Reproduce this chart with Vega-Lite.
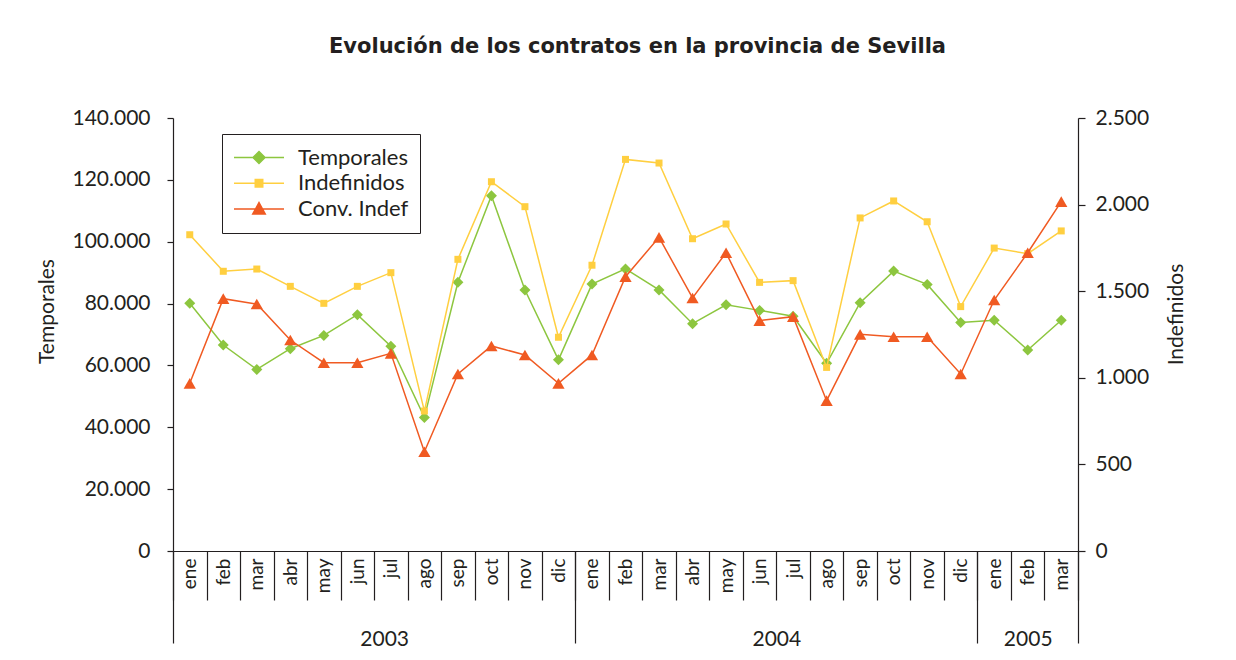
{
  "$schema": "https://vega.github.io/schema/vega-lite/v6.json",
  "width": 905,
  "height": 433,
  "autosize": {"type": "none"},
  "padding": {"left": 173, "top": 118, "right": 158, "bottom": 109},
  "background": "white",
  "title": {"text": "Evolución de los contratos en la provincia de Sevilla", "font": "DejaVu Sans", "fontSize": 21, "fontWeight": "bold", "color": "#231f20", "anchor": "middle", "offset": 50, "dx": 12},
  "data": {"values": [
    {"k": "2003 ene", "T": 80100, "I": 1826, "C": 968},
    {"k": "2003 feb", "T": 66600, "I": 1615, "C": 1457},
    {"k": "2003 mar", "T": 58700, "I": 1628, "C": 1426},
    {"k": "2003 abr", "T": 65400, "I": 1528, "C": 1218},
    {"k": "2003 may", "T": 69700, "I": 1430, "C": 1087},
    {"k": "2003 jun", "T": 76400, "I": 1528, "C": 1087},
    {"k": "2003 jul", "T": 66200, "I": 1607, "C": 1141},
    {"k": "2003 ago", "T": 43200, "I": 808, "C": 573},
    {"k": "2003 sep", "T": 86900, "I": 1684, "C": 1022},
    {"k": "2003 oct", "T": 114900, "I": 2132, "C": 1184},
    {"k": "2003 nov", "T": 84400, "I": 1988, "C": 1132},
    {"k": "2003 dic", "T": 61800, "I": 1234, "C": 968},
    {"k": "2004 ene", "T": 86300, "I": 1650, "C": 1132},
    {"k": "2004 feb", "T": 91200, "I": 2261, "C": 1584},
    {"k": "2004 mar", "T": 84400, "I": 2240, "C": 1811},
    {"k": "2004 abr", "T": 73500, "I": 1803, "C": 1461},
    {"k": "2004 may", "T": 79600, "I": 1888, "C": 1722},
    {"k": "2004 jun", "T": 77800, "I": 1551, "C": 1330},
    {"k": "2004 jul", "T": 75900, "I": 1561, "C": 1353},
    {"k": "2004 ago", "T": 60700, "I": 1060, "C": 868},
    {"k": "2004 sep", "T": 80300, "I": 1923, "C": 1251},
    {"k": "2004 oct", "T": 90500, "I": 2021, "C": 1237},
    {"k": "2004 nov", "T": 86200, "I": 1901, "C": 1237},
    {"k": "2004 dic", "T": 73900, "I": 1411, "C": 1022},
    {"k": "2005 ene", "T": 74600, "I": 1749, "C": 1449},
    {"k": "2005 feb", "T": 65000, "I": 1717, "C": 1722},
    {"k": "2005 mar", "T": 74600, "I": 1848, "C": 2017}
  ]},
  "layer": [
    {
      "mark": {"type": "line", "strokeWidth": 1.5},
      "encoding": {
        "x": {"field": "k", "type": "ordinal", "sort": null, "bandPosition": 0.5,
          "scale": {"type": "band", "paddingInner": 0, "paddingOuter": 0},
          "axis": {"orient": "bottom", "title": null, "labelExpr": "split(datum.label,' ')[1]", "labelAngle": -90, "tickBand": "extent", "tickSize": 49, "labelPadding": -42, "labelFontSize": 19}},
        "y": {"field": "T", "type": "quantitative", "scale": {"domain": [0, 140000], "nice": false},
          "axis": {"orient": "left", "title": "Temporales", "values": [0, 20000, 40000, 60000, 80000, 100000, 120000, 140000], "labelExpr": "replace(format(datum.value, ','), ',', '.')", "tickSize": 6, "labelPadding": 17, "titlePadding": 14, "titleY": 193}},
        "color": {"datum": "Temporales", "type": "nominal",
          "scale": {"domain": ["Temporales", "Indefinidos", "Conv. Indef"], "range": ["#8dc63f", "#ffcf40", "#f05a22"]},
          "legend": {"orient": "none", "legendX": 49, "legendY": 16, "title": null, "strokeColor": "#231f20", "fillColor": "white", "padding": 11, "symbolSize": 2500, "clipHeight": 25, "rowPadding": 0.8, "labelFontSize": 22, "labelOffset": 13, "labelColor": "#231f20", "labelFont": "Lato",
            "encode": {"symbols": {"update": {
              "shape": {"signal": "datum.value==='Temporales'?'M-1,0L1,0M0,-0.24L0.24,0L0,0.24L-0.24,0Z':datum.value==='Indefinidos'?'M-1,0L1,0M-0.15,-0.15L0.15,-0.15L0.15,0.15L-0.15,0.15Z':'M-1,0L1,0M0,-0.26L0.25,0.2L-0.25,0.2Z'"},
              "fill": {"scale": "color", "field": "value"},
              "stroke": {"scale": "color", "field": "value"},
              "strokeWidth": {"value": 1.5},
              "opacity": {"value": 1}}}}}}
      }
    },
    {
      "mark": {"type": "point", "shape": "diamond", "filled": true, "size": 121, "opacity": 1},
      "encoding": {
        "x": {"field": "k", "type": "ordinal", "sort": null, "bandPosition": 0.5, "scale": {"type": "band", "paddingInner": 0, "paddingOuter": 0}, "axis": null},
        "y": {"field": "T", "type": "quantitative", "scale": {"domain": [0, 140000], "nice": false}, "axis": null},
        "color": {"datum": "Temporales", "type": "nominal"}
      }
    },
    {
      "mark": {"type": "line", "strokeWidth": 1.5},
      "encoding": {
        "x": {"field": "k", "type": "ordinal", "sort": null, "bandPosition": 0.5, "scale": {"type": "band", "paddingInner": 0, "paddingOuter": 0}, "axis": null},
        "y": {"field": "I", "type": "quantitative", "scale": {"domain": [0, 2500], "nice": false},
          "axis": {"orient": "right", "title": "Indefinidos", "values": [0, 500, 1000, 1500, 2000, 2500], "labelExpr": "replace(format(datum.value, ','), ',', '.')", "tickSize": 7, "labelPadding": 10, "titleAngle": 270, "titlePadding": 38, "titleY": 196}},
        "color": {"datum": "Indefinidos", "type": "nominal"}
      }
    },
    {
      "mark": {"type": "point", "shape": "square", "filled": true, "size": 49, "opacity": 1},
      "encoding": {
        "x": {"field": "k", "type": "ordinal", "sort": null, "bandPosition": 0.5, "scale": {"type": "band", "paddingInner": 0, "paddingOuter": 0}, "axis": null},
        "y": {"field": "I", "type": "quantitative", "scale": {"domain": [0, 2500], "nice": false}, "axis": null},
        "color": {"datum": "Indefinidos", "type": "nominal"}
      }
    },
    {
      "mark": {"type": "line", "strokeWidth": 1.5},
      "encoding": {
        "x": {"field": "k", "type": "ordinal", "sort": null, "bandPosition": 0.5, "scale": {"type": "band", "paddingInner": 0, "paddingOuter": 0}, "axis": null},
        "y": {"field": "C", "type": "quantitative", "scale": {"domain": [0, 2500], "nice": false}, "axis": null},
        "color": {"datum": "Conv. Indef", "type": "nominal"}
      }
    },
    {
      "mark": {"type": "point", "shape": "triangle-up", "filled": true, "size": 150, "opacity": 1},
      "encoding": {
        "x": {"field": "k", "type": "ordinal", "sort": null, "bandPosition": 0.5, "scale": {"type": "band", "paddingInner": 0, "paddingOuter": 0}, "axis": null},
        "y": {"field": "C", "type": "quantitative", "scale": {"domain": [0, 2500], "nice": false}, "axis": null},
        "color": {"datum": "Conv. Indef", "type": "nominal"}
      }
    },
    {
      "data": {"values": [{"p": 0}, {"p": 27}]},
      "mark": {"type": "point", "opacity": 0},
      "encoding": {
        "x": {"field": "p", "type": "quantitative", "scale": {"domain": [0, 27], "nice": false, "zero": false},
          "axis": {"orient": "bottom", "title": null, "domain": false, "values": [0, 6.3, 12, 18, 24, 25.5, 27],
            "labelExpr": "datum.value==6.3?'2003':datum.value==18?'2004':datum.value==25.5?'2005':''",
            "tickOpacity": {"condition": {"test": "datum.value==6.3||datum.value==18||datum.value==25.5", "value": 0}, "value": 1},
            "tickSize": 92, "labelPadding": -15, "labelFontSize": 21, "labelAngle": 0, "labelFlush": false, "labelOverlap": false, "labelBaseline": "top"}}
      }
    }
  ],
  "resolve": {"scale": {"x": "independent", "y": "independent"}},
  "config": {
    "font": "Lato",
    "view": {"stroke": null},
    "axis": {"labelFont": "Lato", "titleFont": "Lato", "labelColor": "#231f20", "titleColor": "#231f20", "domainColor": "#231f20", "tickColor": "#231f20", "labelFontSize": 21, "titleFontSize": 21, "titleFontWeight": "normal", "grid": false, "domainWidth": 1.2, "tickWidth": 1.2}
  }
}
